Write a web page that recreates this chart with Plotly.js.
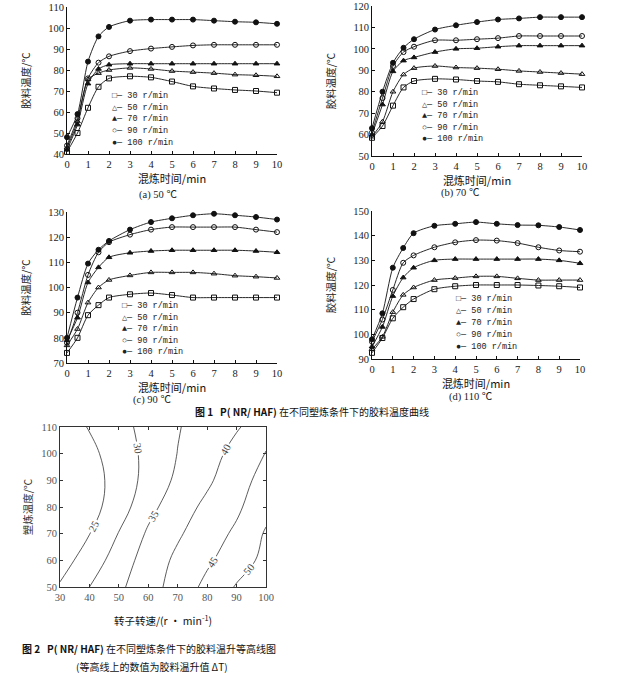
<!DOCTYPE html>
<html>
<head>
<meta charset="utf-8">
<script src="https://cdn.plot.ly/plotly-3.0.1.min.js"></script>
<style>html,body{margin:0;padding:0;background:#fff;}#chart{width:633px;height:673px;}</style>
</head>
<body>
<div id="chart"></div>
<script>
// ---------- data ----------
const time = [0, 0.5, 1, 1.5, 2, 3, 4, 5, 6, 7, 8, 9, 10];
const speedNames = ['30 r/min', '50 r/min', '70 r/min', '90 r/min', '100 r/min'];
const legendSymbols = ['□', '△', '▲', '○', '●'];
const markerSymbols = ['square-open', 'triangle-up-open', 'triangle-up', 'circle-open', 'circle'];

// (a) 50 ℃
const a_30  = [41, 50, 62, 72, 76, 77, 76.5, 74.5, 72.2, 71.2, 70.5, 70, 69.2];
const a_50  = [43, 55.5, 75.5, 78.5, 80, 81, 80.5, 79.5, 79, 78.5, 77.8, 77.5, 77];
const a_70  = [42, 54, 73.5, 80.5, 82.5, 83, 83, 83, 83, 83, 83, 83, 83];
const a_90  = [44, 57, 76, 83.5, 86.5, 89, 90.2, 91, 91.7, 92, 92, 92, 92];
const a_100 = [48, 59, 84, 96, 100.5, 103.5, 104, 104, 104, 103.5, 103, 102.7, 102];
// (b) 70 ℃
const b_30  = [58.5, 64, 73.5, 82, 85, 86, 85.7, 85, 84.6, 83.5, 83, 82.5, 82];
const b_50  = [59, 66, 80, 88, 91, 92, 91.3, 91, 90.5, 89.7, 89.2, 88.7, 88.2];
const b_70  = [60, 74, 89.5, 94.5, 96, 98.5, 100, 100.3, 101, 101.5, 101.5, 101.5, 101.5];
const b_90  = [61, 77, 92, 98.5, 101, 104, 104, 104.5, 105, 106, 106, 106, 106];
const b_100 = [63, 80, 93.5, 100.5, 104.5, 109, 111, 112.5, 113.7, 114.2, 114.8, 114.8, 114.8];
// (c) 90 ℃
const c_30  = [74, 80, 89, 93, 96, 97.3, 97.8, 97, 96, 96, 96, 96, 96];
const c_50  = [77, 83.5, 94, 100, 103, 104.8, 106, 106, 106, 105.5, 104.7, 104.3, 103.8];
const c_70  = [79, 88, 102, 108, 112, 113.8, 114.5, 114.8, 114.8, 114.8, 114.8, 114.5, 114];
const c_90  = [78, 90, 105, 114, 118, 121, 123, 124, 124, 124, 124, 123, 122];
const c_100 = [80, 96, 109.5, 115, 118.5, 123, 126, 127.5, 128.7, 129.3, 128.7, 128, 127];
// (d) 110 ℃
const d_30  = [92.5, 98.5, 106.5, 111, 114.3, 118.3, 119.5, 120, 120, 120, 119.8, 119.5, 119];
const d_50  = [94, 99, 109, 116, 119, 122, 122.8, 123.5, 123.5, 122.7, 122, 122, 122];
const d_70  = [95, 103, 115.5, 123, 127, 130, 130.5, 130.5, 130.5, 130.5, 130.5, 130, 128.8];
const d_90  = [97, 106, 118, 129, 132, 135.3, 137.3, 138.2, 138, 137, 135.3, 134, 133.5];
const d_100 = [98, 108.5, 127, 135, 141, 144, 144.8, 145.5, 144.8, 144.3, 144.2, 143.5, 142.3];

// contour (Fig. 2): rotor speed vs. plasticating temperature, ΔT
const rotorSpeed = [30, 40, 50, 60, 70, 80, 90, 100];
const plastTemp  = [50, 60, 70, 80, 90, 100, 110];
const dT_50  = [25.5, 30.0, 34.1, 38.0, 42.0, 46.3, 50.4, 54.6];
const dT_60  = [22.9, 27.3, 32.3, 37.3, 41.0, 44.2, 47.7, 51.3];
const dT_70  = [19.7, 24.9, 30.2, 35.7, 39.4, 42.6, 45.9, 50.5];
const dT_80  = [18.6, 23.1, 27.6, 33.5, 37.8, 41.1, 44.1, 48.5];
const dT_90  = [18.3, 22.7, 27.1, 31.6, 36.0, 39.2, 42.9, 46.9];
const dT_100 = [19.9, 23.7, 27.5, 31.3, 35.1, 38.1, 41.5, 45.3];
const dT_110 = [22.2, 25.3, 28.4, 31.6, 34.7, 37.2, 39.6, 42.3];

const panelTitles = ['(a) 50 ℃', '(b) 70 ℃', '(c) 90 ℃', '(d) 110 ℃'];
const panelYRanges = [[40, 110], [50, 120], [70, 130], [90, 150]];

// ---------- build ----------
const W = 633, H = 673;
const px = v => v / W, py = v => 1 - v / H;
const panels = [
  [a_30, a_50, a_70, a_90, a_100],
  [b_30, b_50, b_70, b_90, b_100],
  [c_30, c_50, c_70, c_90, c_100],
  [d_30, d_50, d_70, d_90, d_100]
];
const traces = [];
panels.forEach((series, p) => {
  const ax = p === 0 ? '' : String(p + 1);
  series.forEach((vals, i) => {
    traces.push({
      type: 'scatter', mode: 'lines+markers', x: time, y: vals, name: speedNames[i],
      xaxis: 'x' + ax, yaxis: 'y' + ax, showlegend: false, cliponaxis: false,
      line: {color: '#111', width: 0.9, shape: 'spline', smoothing: 0.7},
      marker: {symbol: markerSymbols[i], size: 5, color: '#111', line: {color: '#111', width: 1}}
    });
  });
});
traces.push({
  type: 'contour', x: rotorSpeed, y: plastTemp,
  z: [dT_50, dT_60, dT_70, dT_80, dT_90, dT_100, dT_110],
  xaxis: 'x5', yaxis: 'y5', showscale: false, hoverinfo: 'skip',
  colorscale: [[0, '#333'], [1, '#333']],
  contours: {start: 25, end: 50, size: 5, coloring: 'lines', showlabels: true,
    labelfont: {family: 'Liberation Serif, serif', size: 10.5, color: '#444'}},
  line: {color: '#333', width: 0.8, smoothing: 1.1}
});

// domains from pixel boxes
const boxes = [
  {l: 67, r: 277, t: 7, b: 154},
  {l: 372, r: 582, t: 6, b: 156},
  {l: 67, r: 277, t: 212, b: 363},
  {l: 372, r: 580, t: 211, b: 359}
];
const tickFont = {family: 'Liberation Serif, serif', size: 10.5, color: '#222'};
const cjk = 'Noto Sans CJK SC, sans-serif';
const layout = {
  width: W, height: H, margin: {l: 0, r: 0, t: 0, b: 0},
  paper_bgcolor: '#fff', plot_bgcolor: 'rgba(0,0,0,0)', showlegend: false,
  annotations: [], font: {family: cjk}
};
boxes.forEach((b, p) => {
  const ax = p === 0 ? '' : String(p + 1);
  layout['xaxis' + ax] = {
    domain: [px(b.l), px(b.r)], anchor: 'y' + ax, range: [0, 10], dtick: 1,
    ticks: 'inside', ticklen: 3, tickcolor: '#111', showline: true, linecolor: '#111', linewidth: 1,
    showgrid: false, zeroline: false, tickfont: tickFont,
    title: {text: '混炼时间/min', font: {family: cjk, size: 11, color: '#111'}, standoff: 1}
  };
  layout['yaxis' + ax] = {
    domain: [py(b.b), py(b.t)], anchor: 'x' + ax, range: panelYRanges[p], dtick: 10,
    ticks: 'inside', ticklen: 3, tickcolor: '#111', showline: true, linecolor: '#111', linewidth: 1,
    showgrid: false, zeroline: false, tickfont: tickFont,
    title: {text: '胶料温度/℃', font: {family: cjk, size: 10.5, color: '#222'}, standoff: 15}
  };
});
layout.xaxis5 = {
  domain: [px(60), px(266)], anchor: 'y5', range: [30, 100], dtick: 10,
  ticks: 'inside', ticklen: 3, tickcolor: '#333', showline: true, mirror: 'ticks', linecolor: '#333', linewidth: 1,
  showgrid: false, zeroline: false, tickfont: {family: 'Liberation Serif, serif', size: 10.5, color: '#555'},
  title: {text: '转子转速/(r · min<sup>-1</sup>)', font: {family: cjk, size: 10.5, color: '#111'}, standoff: 16}
};
layout.yaxis5 = {
  domain: [py(587), py(427)], anchor: 'x5', range: [50, 110], dtick: 10,
  ticks: 'inside', ticklen: 3, tickcolor: '#333', showline: true, mirror: 'ticks', linecolor: '#333', linewidth: 1,
  showgrid: false, zeroline: false, tickfont: {family: 'Liberation Serif, serif', size: 10.5, color: '#555'},
  title: {text: '塑炼温度/℃', font: {family: cjk, size: 10.5, color: '#333'}, standoff: 6}
};

// panel captions
const capPos = [[158, 195], [460, 193], [152, 400], [471, 397]];
panelTitles.forEach((t, p) => {
  layout.annotations.push({text: t, xref: 'paper', yref: 'paper', x: px(capPos[p][0]), y: py(capPos[p][1]),
    xanchor: 'center', yanchor: 'middle', showarrow: false,
    font: {family: 'Liberation Serif, ' + cjk, size: 10.5, color: '#222'}});
});
// legends
const legPos = [{x: 110, y: 96, s: 11.7}, {x: 420, y: 93, s: 11.6}, {x: 120, y: 306, s: 11.5}, {x: 454, y: 299, s: 12}];
legPos.forEach(lp => {
  speedNames.forEach((n, i) => {
    layout.annotations.push({text: legendSymbols[i] + '— ' + n, xref: 'paper', yref: 'paper',
      x: px(lp.x), y: py(lp.y + i * lp.s), xanchor: 'left', yanchor: 'middle', showarrow: false,
      font: {family: 'Liberation Mono, DejaVu Sans Mono, monospace', size: 8.5, color: '#222'}});
  });
});
// figure captions
layout.annotations.push({text: '<b>图 1   P( NR/ HAF)</b> 在不同塑炼条件下的胶料温度曲线', xref: 'paper', yref: 'paper',
  x: px(312), y: py(411), xanchor: 'center', yanchor: 'middle', showarrow: false,
  font: {family: cjk, size: 10, color: '#111'}});
layout.annotations.push({text: '<b>图 2   P( NR/ HAF)</b> 在不同塑炼条件下的胶料温升等高线图', xref: 'paper', yref: 'paper',
  x: px(20), y: py(648), xanchor: 'left', yanchor: 'middle', showarrow: false,
  font: {family: cjk, size: 10, color: '#111'}});
layout.annotations.push({text: '(等高线上的数值为胶料温升值 ΔT)', xref: 'paper', yref: 'paper',
  x: px(152), y: py(666), xanchor: 'center', yanchor: 'middle', showarrow: false,
  font: {family: cjk, size: 10, color: '#111'}});

Plotly.newPlot('chart', traces, layout, {staticPlot: true, displayModeBar: false});
</script>
</body>
</html>
